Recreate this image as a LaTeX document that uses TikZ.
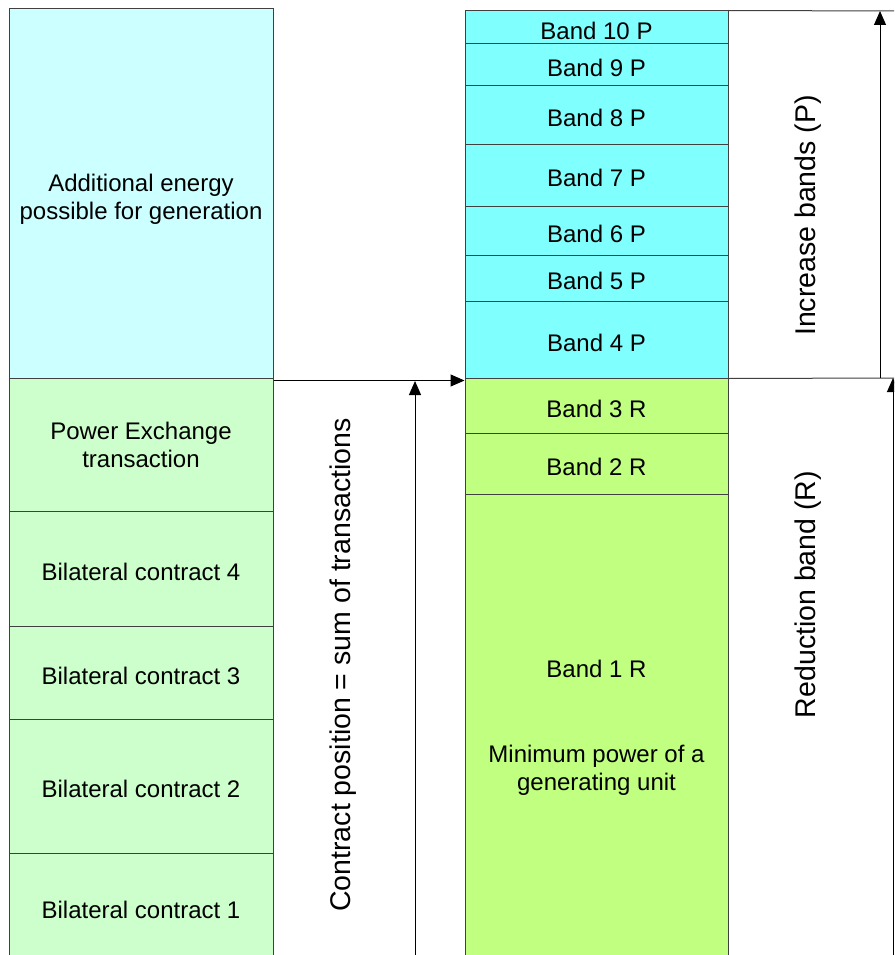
\documentclass[tikz,border=0pt]{standalone}
\usepackage{fontspec}
\setmainfont{Liberation Sans}
\usetikzlibrary{arrows.meta}

\definecolor{addcyan}{HTML}{CCFFFF}
\definecolor{trgreen}{HTML}{CCFFCC}
\definecolor{pcyan}{HTML}{80FFFF}
\definecolor{rgreen}{HTML}{C0FF80}

\begin{document}
\begin{tikzpicture}[x=1pt, y=-1pt,
leftbox/.style={rectangle, draw=black!75, line width=1pt, fill=trgreen, minimum width=264pt, align=center, inner sep=0pt, font=\fontsize{24}{28}\selectfont, execute at begin node={\rule{0pt}{23.5pt}}},
bandbox/.style={leftbox, fill=pcyan, minimum width=263pt},
sidelabel/.style={rotate=90, font=\fontsize{28.5}{32}\selectfont},
arrowline/.style={line width=1pt, -{Triangle[length=14pt, width=12pt]}}
]
    \clip (0,0) rectangle (894,955);
    \fill[white] (0,0) rectangle (894,955);

    % transactions (the top box runs on under the next one)
    \node [leftbox, fill=addcyan, minimum height=381pt] (add) at (141,199.5) {Additional energy\\possible for generation};
    \node [leftbox, minimum height=133pt] (pex) at (141,444.5) {Power Exchange\\transaction};
    \node [leftbox, minimum height=115pt] (bc4) at (141,568.5) {Bilateral contract 4};
    \node [leftbox, minimum height=93pt] (bc3) at (141,672.5) {Bilateral contract 3};
    \node [leftbox, minimum height=134pt] (bc2) at (141,786) {Bilateral contract 2};
    \node [leftbox, minimum height=108pt] (bc1) at (141,907) {Bilateral contract 1};

    % increase bands
    \node [bandbox, minimum height=33pt] (b10) at (596.5,27.5) {Band 10 P};
    \node [bandbox, minimum height=42pt] (b9) at (596.5,65) {Band 9 P};
    \node [bandbox, minimum height=58pt] (b8) at (596.5,115) {Band 8 P};
    \node [bandbox, minimum height=62pt] (b7) at (596.5,175) {Band 7 P};
    \node [bandbox, minimum height=49pt] (b6) at (596.5,230.5) {Band 6 P};
    \node [bandbox, minimum height=46pt] (b5) at (596.5,278) {Band 5 P};
    \node [bandbox, minimum height=77pt] (b4) at (596.5,339.5) {Band 4 P};

    % reduction bands
    \node [bandbox, fill=rgreen, minimum height=55pt] (b3) at (596.5,405.5) {Band 3 R};
    \node [bandbox, fill=rgreen, minimum height=61pt] (b2) at (596.5,463.5) {Band 2 R};
    \node [bandbox, fill=rgreen, minimum height=467pt] (b1) at (596.5,727.5) {Band 1 R\\[57pt]Minimum power of a\\generating unit};

    \coordinate (cbase) at (415,960);
    \coordinate (ctop) at (415,381);
    \coordinate (pend) at (894,11);
    \coordinate (rend) at (894,378);
    \coordinate (pbase) at (880,378);
    \coordinate (ptop) at (880,11);
    \coordinate (rbase) at (893,960);
    \coordinate (rtop) at (893,378);

    \draw [arrowline] ([yshift=-3pt]pex.north east) -- ([yshift=-3pt]b3.north west);
    \draw [arrowline] (cbase) -- (ctop);
    \draw [line width=1pt, black!75] (b10.north east) -- (pend);
    \draw [line width=1pt, black!75] (b4.south east) -- (rend);
    \draw [arrowline] (pbase) -- (ptop);
    \draw [arrowline] (rbase) -- (rtop);

    \node [sidelabel] (cpos) at (343,665) {Contract position = sum of transactions};
    \node [sidelabel] (incr) at (808,215.5) {Increase bands (P)};
    \node [sidelabel] (redu) at (808,594.5) {Reduction band (R)};
\end{tikzpicture}
\end{document}
